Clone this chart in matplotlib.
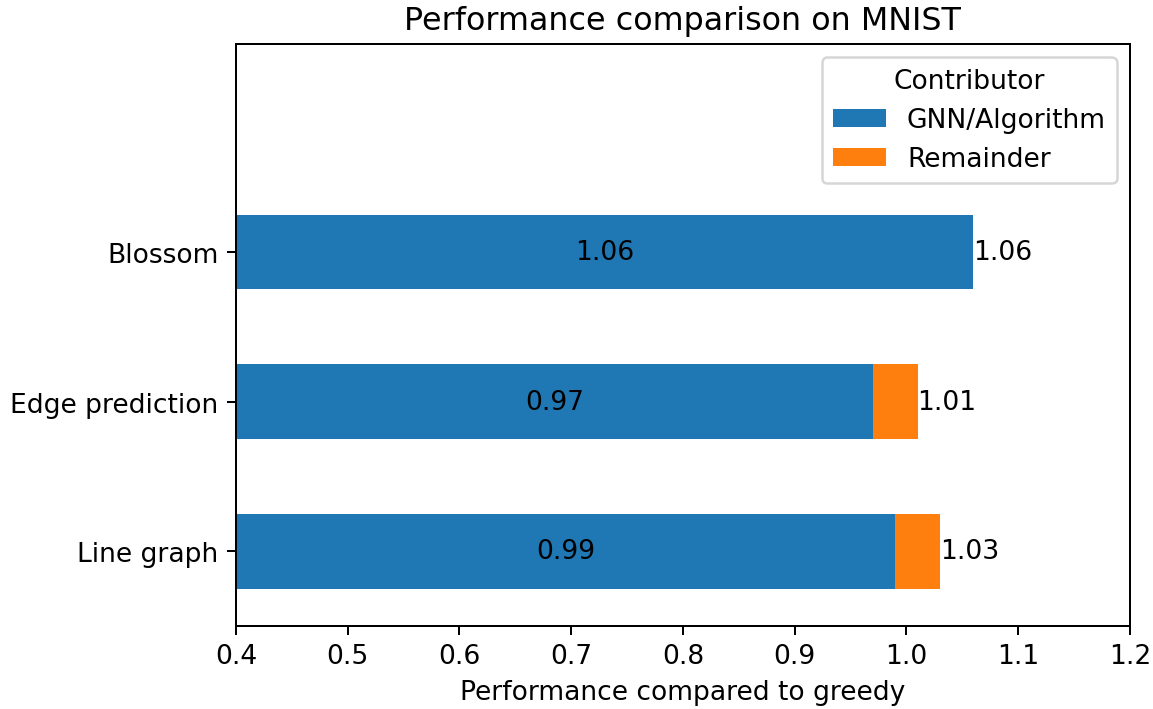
import numpy as np
import matplotlib.pyplot as plt

plt.rcParams["font.size"] = 10.6

methods = ["Line graph", "Edge prediction", "Blossom"]
gnn_part = [0.99, 0.97, 1.06]
remainder = [0.04, 0.04, 0.0]
totals = [1.03, 1.01, 1.06]

fig, ax = plt.subplots(figsize=(6.41, 3.944), dpi=180)
y = np.arange(len(methods))

b1 = ax.barh(y, gnn_part, height=0.5, color="#1f77b4", label="GNN/Algorithm")
b2 = ax.barh(y, remainder, left=gnn_part, height=0.5, color="#ff7f0e", label="Remainder")

xmin, xmax = 0.4, 1.2
for yi, g, t in zip(y, gnn_part, totals):
    # label the visible part of the blue bar at its middle
    ax.text((xmin + g) / 2, yi, f"{g:.2f}", ha="center", va="center")
    ax.text(t, yi, f"{t:.2f}", ha="left", va="center")

ax.set_yticks(y)
ax.set_yticklabels(methods)
ax.set_xlim(xmin, xmax)
ax.set_ylim(-0.5, 3.39)
ax.set_xlabel("Performance compared to greedy")
ax.set_title("Performance comparison on MNIST")
ax.legend(title="Contributor", loc="upper right")

fig.subplots_adjust(left=0.2045, right=0.9792, top=0.9366, bottom=0.1169)
fig.savefig("out.png")
